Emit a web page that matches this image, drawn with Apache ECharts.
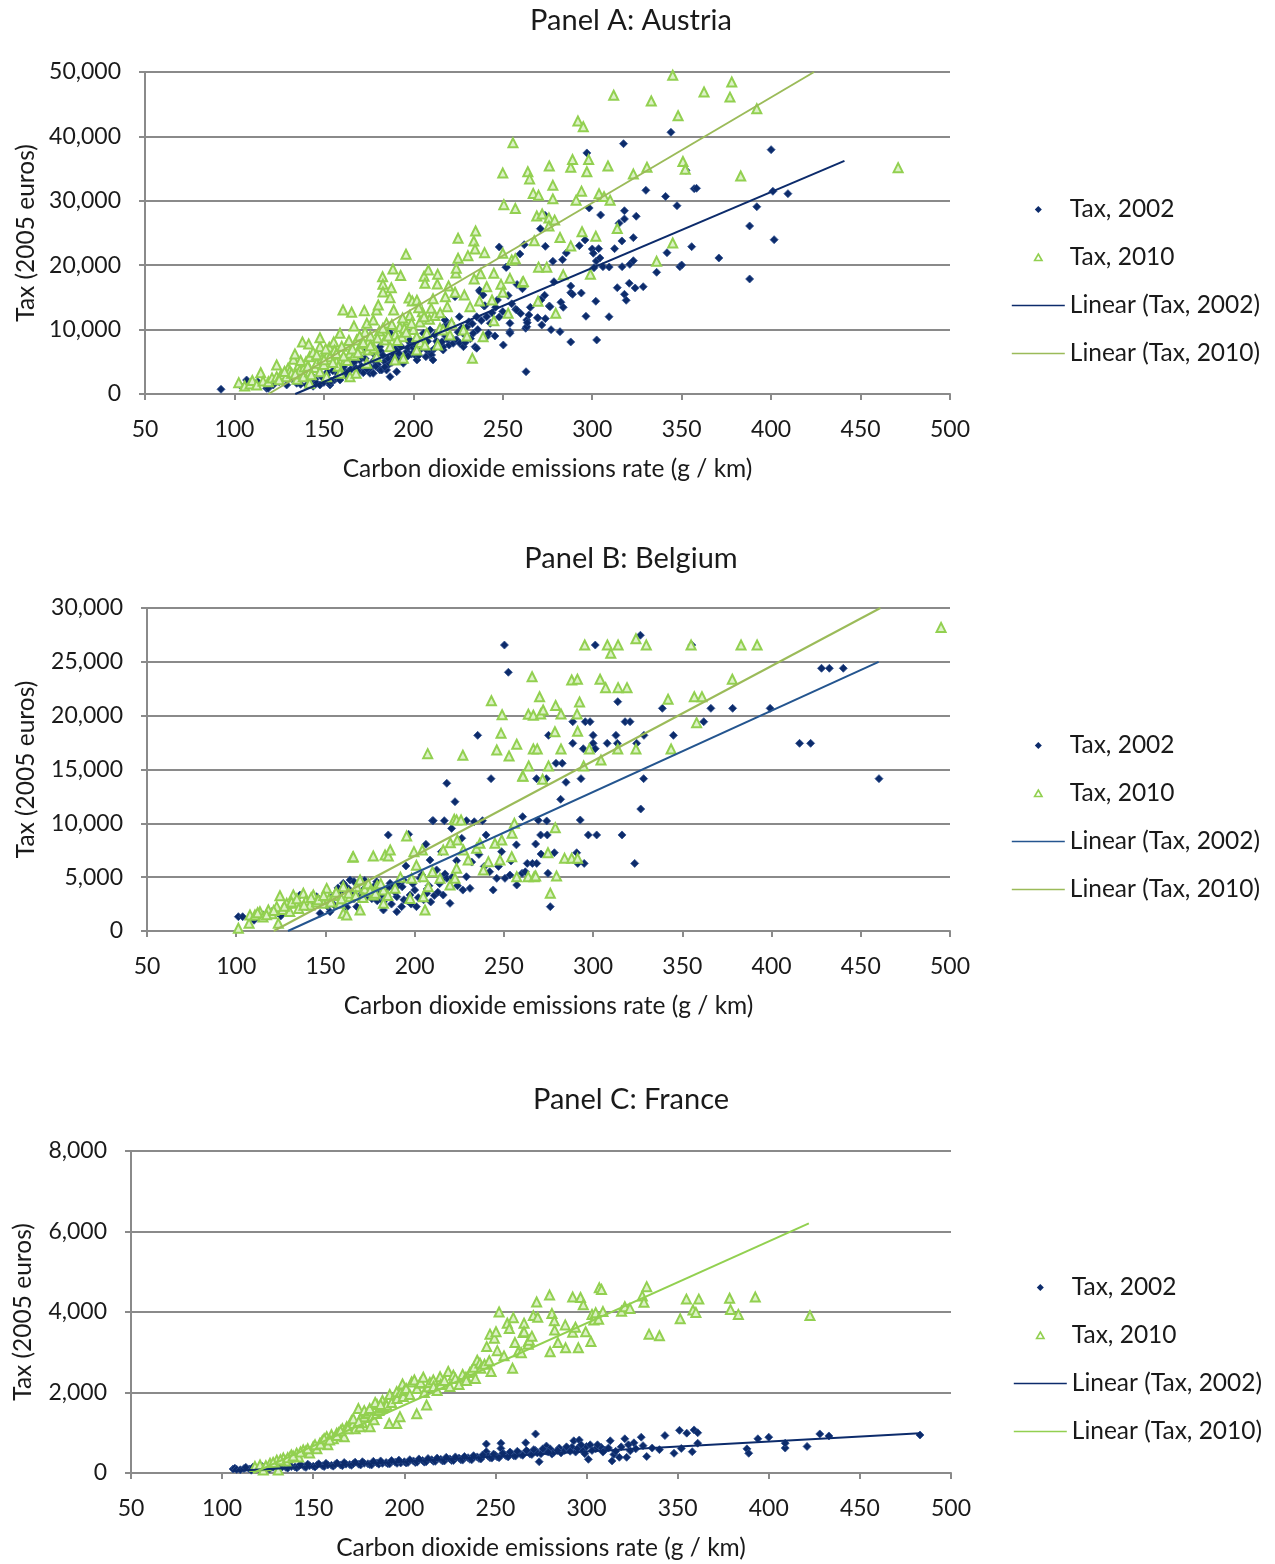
<!DOCTYPE html>
<html>
<head>
<meta charset="utf-8">
<title>Vehicle tax versus CO2 emissions rate</title>
<script src="https://cdn.jsdelivr.net/npm/echarts@6/dist/echarts.min.js"></script>
<style>
  html, body { margin: 0; padding: 0; background: #ffffff; }
  #chart { width: 1275px; height: 1564px; }
</style>
</head>
<body>
<div id="chart"></div>
<script>
// ---------- data: [CO2 rate (g/km), tax (2005 euros)] ----------
const seriesNames = ['Tax, 2002', 'Tax, 2010', 'Linear (Tax, 2002)', 'Linear (Tax, 2010)'];
const panelTitles = ['Panel A: Austria', 'Panel B: Belgium', 'Panel C: France'];
const xTicks = [50, 100, 150, 200, 250, 300, 350, 400, 450, 500];
const yTicksA = [0, 10000, 20000, 30000, 40000, 50000];
const yTicksB = [0, 5000, 10000, 15000, 20000, 25000, 30000];
const yTicksC = [0, 2000, 4000, 6000, 8000];

// Austria
const austria2002 = [
  [92.5,730],[103,1400],[106.8,2170],[110,1600],[113,1900],[118,880],[118.9,880],[121.7,1400],[125,1900],[129.2,1400],
  [132,2400],[134.8,1910],[134.8,1660],[137,1500],[140.4,1400],[140.4,2430],[142.2,1910],[143,2900],[145,2300],[146,1660],
  [147.8,1400],[148,3200],[150,1800],[151.6,2950],[152,3400],[153.4,1400],[153.4,1660],[155,3600],[156,2200],[157,2500],
  [159,2170],[159,3730],[160,3000],[160.8,3730],[161,4200],[162.7,2950],[163,2600],[164,3500],[165,3800],[166.4,4770],
  [166.4,6320],[167,5000],[168,4000],[170,5280],[170.2,5790],[171,4300],[172,3300],[173,5500],[174,6830],[175,4500],
  [175.8,3210],[176,4100],[177.6,3210],[177.6,6320],[178,5200],[179,5000],[180,4600],[181.3,3730],[181.3,7350],[182,6600],
  [182.3,3730],[183,6000],[184,5000],[185,3730],[186,5500],[186,4500],[186.9,9520],[187,2690],[187,9430],[188.8,5790],
  [189,6100],[190,7000],[190.7,3460],[191,5300],[192,6300],[193,7400],[194.4,4770],[195,5600],[196.3,6570],[197,7200],
  [198,8000],[198,8390],[199,6200],[200,7200],[201,7800],[201.9,5790],[201.9,7350],[202,5280],[202,8650],[203,6000],
  [204,7000],[205.6,9430],[206,7300],[207.5,6830],[208,8200],[209,6060],[209.3,9940],[210,6600],[210.2,6060],[211,5280],
  [212,9200],[213,8200],[214,7800],[215,7350],[216.7,6830],[216.7,7350],[217.7,10600],[217.7,11490],[218,9000],[219,8500],
  [219,10450],[220,7600],[221,11000],[222.3,7870],[223.3,15110],[224,8400],[224.2,8390],[225.7,12000],[226,7870],[227,10200],
  [228,9500],[228,7350],[229,9100],[230,10450],[231,11200],[232,8600],[233.5,9430],[234.5,7350],[235.4,12000],[235.4,7100],
  [236,10000],[237,16100],[237.3,15890],[238,11400],[239,15370],[239.5,13670],[240,13710],[241,12000],[241,8900],[242,9430],
  [243,10980],[244,12600],[245.6,9010],[246,13460],[247,14600],[248,11950],[248,22830],[250,12800],[250.3,7610],[251.8,19680],
  [252,19670],[253,15300],[254,9680],[254,10980],[254,9430],[255,14000],[257.3,13150],[257.8,13040],[258,17000],[259.6,21740],
  [260,12500],[261,16350],[262,23190],[262.8,10200],[263,3460],[263.4,10450],[263.4,11490],[263.7,11070],[264.6,12270],[265.4,13460],
  [269.5,11800],[269.5,11850],[270.8,14600],[271,25670],[271.4,14600],[271.8,10720],[273.4,15330],[273.6,27750],[273.8,11700],[273.8,22930],
  [276,13660],[276.4,13560],[277,9990],[278,20610],[278.6,17440],[282,9680],[282.5,14240],[283.4,20860],[283.8,13460],[285.5,21900],
  [288,8080],[288,15730],[288,16770],[289,15480],[292.8,23030],[293.9,15680],[296,23920],[296.5,12070],[297,37430],[298.3,28880],
  [300,22520],[300.6,21850],[301,19610],[302,14400],[302.3,20650],[302.5,8390],[303.6,22570],[304.3,21120],[304.7,27800],[306,19770],
  [309.4,12000],[309.5,19720],[312.5,22570],[314,16510],[315,26500],[316.6,23760],[316.7,19770],[317.5,38870],[318,27180],[318,28460],
  [318,15480],[319,14550],[320.7,17190],[321,20130],[323,20700],[323,24280],[324,16460],[324.6,27600],[328.5,16660],[330,31630],
  [336,18900],[341,30680],[341.8,21940],[344,40640],[347.4,29240],[349,19770],[350,20030],[352.4,34740],[355.6,22880],[357,31890],
  [358.3,31940],[370.8,21120],[388,26090],[388,17860],[392,29080],[400,37940],[401,31480],[401.7,23960],[409.4,31110],
  [144,1200],[149,2600],[154,2000],[158,3100],[163,3300],[169,3600],[174,3900],[179,4300],[184,4200],[188,4900],
  [193,5200],[197,5900],[203,6700],[207,5800],[212,7100],[216,8100],[221,8800],[225,9600],[229,8000],[233,10900]
];
const austria2010 = [
  [102.4,1760],[105.7,1240],[108.7,1550],[110,2100],[112.4,1400],[114.7,3310],[116,2000],[119,1910],[121,2500],[123.6,2690],
  [123.6,4500],[126,3000],[129,2690],[130,4000],[131,3600],[132,3210],[133,5390],[133.8,6210],[135,2300],[136,4500],
  [136.6,3730],[138,8080],[138.5,2690],[139,4200],[140,5000],[141.5,7770],[142,3460],[142,5790],[142,1660],[143,3000],
  [144,6500],[145,4100],[146,4770],[147.8,3460],[147.8,7350],[147.8,8740],[149,5500],[150,4600],[151.5,2690],[152,6000],
  [153,7250],[153.4,5790],[155.5,8080],[156,6800],[157,5020],[158,4300],[159,3210],[159,9430],[160.7,13040],[161.8,5280],
  [162.7,7610],[163,5200],[164.6,6320],[164.6,2690],[165.5,12690],[166.8,10560],[167,6000],[168,3210],[168.3,8390],[170,7100],
  [171,7800],[172.6,12940],[173,9600],[174,10980],[174,4770],[174.8,6830],[175,8200],[176,9000],[177.6,11500],[178,7100],
  [179.5,13040],[179.5,5790],[180.4,13820],[181,9800],[182.8,18200],[183,17030],[183,15840],[184,8390],[185,11000],[187,7350],
  [187,14960],[187.7,16500],[188.6,19400],[189,13040],[189.7,5280],[190,9200],[192.5,10450],[192.9,18400],[193.7,8900],[194.4,5540],
  [195,10200],[195.9,21700],[197,11500],[197.6,14900],[198,12200],[199.4,14440],[200,10000],[201.9,8900],[201.9,6830],[202,14550],
  [203.7,11180],[204,8000],[205,12780],[206,18300],[206.5,17200],[206.5,7610],[207.5,9430],[208.4,19250],[209,11600],[210,13300],
  [212,12200],[213.4,17080],[213.6,18600],[213.6,7610],[214.9,10200],[216.7,9940],[217.9,15110],[219,13560],[219.7,16770],[220.5,9160],
  [221.4,10980],[223.3,15790],[223.8,18800],[224,19520],[225,24180],[225,21070],[228,9940],[228.5,15370],[230,9000],[230.5,21480],
  [231.7,13560],[233,5540],[233.8,23760],[234,17860],[234.5,22500],[234.8,25300],[237,14440],[237.6,18680],[239,8900],[239.8,21950],
  [241,16660],[244,14600],[245,18740],[245,11380],[249,17030],[250,15790],[250,21850],[250,34300],[250.6,29400],[253,12530],
  [254,17960],[255,20800],[255.7,39000],[257,21000],[257,28800],[261,17340],[261.5,17450],[264,34500],[265,33400],[267,31150],
  [267.6,23800],[269,27650],[269.7,14400],[270,30850],[270,19700],[272,27950],[274.6,19700],[275.8,27330],[275.8,26100],[276,35400],
  [278,32400],[278,30300],[279,27000],[279.6,12530],[282,24300],[283.8,18500],[288,23000],[288,35200],[289,36400],[291,30100],
  [292,42400],[294,31500],[294.3,25200],[295,41500],[297,34500],[298,36400],[299,18600],[302,24500],[303.8,31100],[306.6,30650],
  [308.8,35400],[310,30100],[312,46400],[314,25700],[323,34150],[330.6,35200],[333,45500],[336,20600],[345,49500],[345,23450],
  [348,43200],[350.7,36100],[352,34900],[362.5,46900],[377,46100],[378,48450],[383,33850],[392,44300],[471,35150],
  [125,2200],[128,3500],[134,3100],[137,5200],[141,4300],[146,6100],[150,5300],[151,7000],[155,4900],[157,6300],
  [160,7400],[161,5900],[164,8300],[166,7000],[169,6400],[170,9000],[172,8000],[176,7500],[180,8700],[183,10200],
  [186,9000],[188,10800],[191,8300],[194,11800],[196,9600],[199,11000],[203,13400],[206,12000],[211,14800],[215,12600]
];
const austriaFit2002 = [[134, 0], [441, 36200]];
const austriaFit2010 = [[119, 0], [424, 50000]];

// Belgium
const belgium2002 = [
  [101.2,1330],[103.6,1330],[110,1000],[115,1500],[120,1800],[125,1400],[128,2200],[132,2570],[135.7,3340],[139.5,2260],
  [142,2800],[145,3190],[147,1640],[150,2900],[152.6,1790],[155,2400],[157,4000],[158,3600],[160,4430],[161,4200],
  [162,2200],[163.8,4740],[164,3500],[166,3000],[167.5,2260],[168,4300],[170,3400],[171,3800],[173.1,3190],[175,3960],
  [176,3000],[178.7,4580],[179,2800],[180.6,3650],[182.5,2720],[182.5,1950],[184,3400],[185.2,8920],[186.2,4430],[187,2500],
  [188,4120],[190,3190],[190,1790],[191,4300],[192.7,2260],[193.7,4740],[194,2900],[195.1,6040],[196.6,8980],[197.4,3340],
  [198,2500],[200,3800],[201,2260],[203,4890],[205,2900],[206.3,8050],[206.7,3500],[208,4200],[208.6,6590],[210,10250],
  [210.4,10250],[211,3300],[212.3,5670],[214,4400],[215,7370],[216,3340],[216.6,10250],[217,5300],[218,13720],[218,4890],
  [219.8,2570],[220.7,9530],[221,5000],[222.6,12010],[223.5,6530],[224,4200],[226.4,8610],[227,3800],[229,10250],[229,5040],
  [231,3960],[232,6400],[233.4,10150],[235.3,18170],[236,7100],[238,10250],[239,6000],[240,8920],[242,5500],[242.8,14150],
  [244,3810],[246,4890],[247,6000],[248.7,7370],[250.3,26560],[250.6,4890],[252.5,24030],[253.4,5200],[254,6500],[257,8000],
  [257.2,4270],[260.2,5360],[260.5,10620],[262,5500],[263.1,6280],[266,6280],[267.8,8080],[268.3,14150],[268.4,6280],[269.3,10280],
  [270.6,8920],[270.8,7150],[273.8,14150],[274,10220],[274.3,8920],[274.7,5360],[275,18170],[276,2260],[278.3,7270],[279.2,15580],
  [281.8,12230],[282.7,15580],[284.8,13810],[288.6,19440],[288.6,17430],[290.8,7270],[291.4,6280],[292.8,10310],[293.2,14150],[294.5,16930],
  [295,6280],[295.6,19440],[297.3,8920],[298.3,19440],[300,18170],[300,17430],[301.2,26560],[301.2,16930],[302,8920],[307.9,17430],
  [312.8,18170],[313.6,17430],[313.8,21300],[316.2,8920],[317.9,19440],[320.7,19440],[323.3,6280],[324.4,17430],[326.5,27470],[326.7,11330],
  [328.3,14150],[328.5,18170],[338.8,20680],[345,18170],[355.3,26560],[362,19440],[366,20680],[378.2,20680],[399.2,20680],[415.7,17430],
  [421.9,17430],[428,24400],[432.4,24400],[440.2,24400],[460.2,14150],
  [151,2300],[154,3200],[159,2700],[163,3900],[166,4600],[169,3000],[172,4700],[177,4100],[181,3300],[185,4000],
  [189,3600],[193,4100],[196,2800],[199,4400],[202,3100],[204,5200],[207,3900],[209,2700],[213,3600],[215,4800]
];
const belgium2010 = [
  [101.2,250],[107.2,720],[107.7,1490],[110.5,1490],[113.3,1790],[115,1300],[118,1950],[120,1600],[122.7,2260],[123.6,720],
  [124.5,3280],[126,2000],[128.3,2570],[130,1800],[132,3340],[133.9,2570],[135,2100],[137.6,3500],[139,2800],[141.3,2410],
  [143.2,3340],[145,2700],[148.8,2570],[150.7,3960],[152,3000],[155,3300],[158.2,2570],[160,4120],[160,1640],[161.9,1490],
  [163.8,3190],[165.3,6850],[165.6,6900],[167.5,4120],[169.4,4740],[169.4,1950],[172,3900],[174,4400],[176.8,6970],[176.8,3340],
  [179,4200],[182.5,3810],[182.5,2570],[183.4,7060],[185.2,6970],[186.3,7520],[189,3960],[192,5000],[195.5,8820],[197.4,3030],
  [198.3,4890],[199.6,7370],[201,6100],[204.3,7520],[204.8,5040],[204.8,3190],[205.8,1950],[207.3,16470],[207.6,4120],[210,5500],
  [214.2,4890],[216,7520],[219.8,4270],[220,8200],[222.2,10370],[222.6,4890],[223.5,10310],[223.5,5820],[223.9,8450],[226,10310],
  [227,16320],[227.3,7520],[230,6590],[234.7,7680],[236.6,8140],[238.5,5670],[241.3,6440],[243,21390],[245,8140],[246,16810],
  [247.8,6590],[248.4,18360],[248.8,8450],[249,20090],[252.9,16250],[254.4,6900],[254.6,9070],[255.9,10000],[257.2,17340],[257.2,5040],
  [260.5,14400],[260.7,14370],[263.6,5050],[263.7,20130],[263.9,15330],[265.8,23620],[266.5,16900],[266.5,20040],[267,5050],[267.8,5110],
  [268.7,16900],[270,21760],[270.6,20160],[271.7,14090],[272,20530],[274.7,7270],[275,15330],[276,3500],[278.6,18510],[278.8,9590],
  [279,20950],[279.5,5110],[282,20160],[282,16900],[284,6750],[288,23310],[288,6750],[291,20160],[291.2,23380],[291.3,18550],
  [291.3,6750],[292.4,21270],[294.7,15330],[295.3,26560],[297.9,16900],[303.9,23380],[304.4,15880],[307,22600],[308,26560],[309.9,25790],
  [313.8,16900],[314,26560],[314,22600],[319,22600],[324,27150],[324,16900],[329.8,26560],[342,21520],[343.7,16900],[354.9,26560],
  [356.7,21760],[358,19350],[361,21760],[378,23380],[382.9,26560],[391.9,26560],[495,28200],
  [112,1700],[117,1500],[121,1900],[127,2300],[131,2700],[134,3000],[138,2400],[142,3100],[146,2900],[149,3300],
  [153,2700],[156,3600],[159,3000],[163,3500],[167,3300],[171,3100],[175,3700],[178,3500],[181,4400],[185,3300]
];
const belgiumFit2002 = [[129, 0], [460, 25000]];
const belgiumFit2010 = [[121, 0], [461, 30000]];

// France
const france2002 = [
  [106,100],[107,120],[108,90],[110,80],[112,110],[115,100],[116,70],[118,120],[120,110],[121,90],
  [123,130],[125,120],[126,100],[128,140],[130,130],[131,110],[133,150],[135,140],[136,120],[138,160],
  [140,150],[141,130],[142,170],[145,160],[146,140],[148,180],[150,170],[151,150],[152,190],[155,180],
  [156,160],[158,200],[160,190],[161,170],[162,210],[165,200],[166,180],[168,220],[170,210],[171,190],
  [172,230],[175,220],[176,200],[178,240],[180,230],[181,210],[182,200],[185,250],[186,220],[188,240],
  [190,260],[191,230],[192,230],[195,270],[196,240],[198,250],[200,280],[201,250],[202,260],[205,300],
  [206,260],[207,270],[210,310],[211,270],[212,280],[215,330],[216,290],[217,290],[220,340],[221,300],
  [222,300],[225,350],[226,310],[227,310],[230,370],[231,330],[232,320],[235,380],[236,340],[237,330],
  [240,400],[241,360],[242,350],[245,720],[245,530],[246,420],[247,380],[248,370],[250,440],[251,400],
  [252,380],[253,740],[253,610],[255,460],[256,420],[257,400],[259,480],[260,430],[261,420],[263,500],
  [264,460],[265,440],[266.6,750],[268,520],[269,470],[270,460],[272,970],[272,560],[273,500],[274,280],
  [275,480],[278,670],[278,540],[280,600],[281,470],[282,510],[285,620],[286,500],[288,560],[290,600],
  [292,640],[293,800],[294,520],[296,820],[298,570],[300,660],[301,340],[302,700],[305,600],[308,640],
  [310,570],[313,800],[314,300],[315,460],[318,390],[321,850],[322,390],[324,550],[326,750],[330,890],
  [333,410],[336,620],[340,580],[343,930],[348,490],[351,1060],[352,610],[355,990],[358,530],[359,1070],
  [361,1000],[361,740],[388,600],[389,490],[394,850],[400,890],[409,620],[409,740],[421,660],[428,970],
  [433,920],[483,944],
  [113,140],[117,150],[122,160],[127,170],[132,180],[137,190],[143,210],[147,220],[153,230],[157,240],
  [163,250],[167,260],[173,270],[177,280],[183,290],[187,300],[193,310],[197,320],[203,330],[208,350],
  [213,360],[218,370],[223,390],[228,400],[233,410],[238,430],[243,450],[249,470],[254,490],[258,520],
  [262,540],[267,560],[271,580],[276,600],[279,520],[284,560],[289,650],[291,540],[295,610],[297,700],
  [299,480],[303,560],[306,700],[309,520],[312,620],[316,540],[319,650],[323,700],[327,600],[331,680]
];
const france2010 = [
  [118,160],[120.8,200],[122.6,75],[126.3,240],[130,320],[130.8,75],[133.6,370],[135,300],[137.3,400],[138,450],
  [140.9,490],[142,400],[144.5,570],[146,550],[148,500],[150,650],[152,600],[153.7,740],[155,800],[157.4,900],
  [158,700],[160,950],[161,850],[162.9,990],[164,1000],[166,1100],[167,900],[168.4,1150],[170,1200],[171,1300],
  [172,1230],[173,1100],[174.8,1600],[175.7,1150],[176,1350],[177,1250],[178,1400],[179,1470],[180,1500],[181.2,1150],
  [182,1380],[183.4,1320],[184.8,1480],[185,1700],[186,1550],[187.6,1610],[188,1800],[189,1650],[190.3,1690],[191.7,1230],
  [192,1950],[193,1750],[195.8,1230],[195.8,2020],[196,1850],[197.6,1400],[198,2000],[199,2210],[199.4,1900],[200,2050],
  [201,2100],[203,1950],[204,2260],[205.5,2310],[206.8,1470],[207,2100],[208.6,2230],[209,2250],[210.4,2380],[211,2000],
  [212.2,1690],[213.2,2140],[214,2250],[215.9,2310],[216,2150],[218,2050],[219.6,2390],[220,2200],[222,2300],[224.1,2520],
  [225,2150],[226.9,2430],[228,2350],[230,2200],[232,2450],[233.8,2380],[234,2300],[236,2500],[237,2550],[238.2,2630],
  [239,2350],[240,2800],[241.5,2730],[242,2600],[244,2700],[245.2,3140],[246.6,2790],[247,3450],[247.6,2520],[249.4,3350],
  [250.3,3510],[251,3040],[252,4000],[254.7,2910],[256.5,3720],[257.6,3590],[259.4,2600],[259.8,3860],[260.7,3240],[262.5,3010],
  [264.2,2990],[265.2,3490],[265.7,3720],[265.7,3510],[268,3260],[268,3200],[268.6,3300],[270,3400],[270.8,3910],[272.6,4250],
  [273.2,3870],[279.7,4420],[280,3010],[281,3960],[282.3,3780],[282.5,3550],[284.3,3240],[288.3,3680],[288.5,3110],[292.4,4370],
  [292.4,3500],[293.9,3620],[295.5,3110],[296.7,4360],[298.2,4180],[299.5,3510],[302.4,3270],[303,3940],[304,3800],[305,3980],
  [306.6,3820],[307,4600],[308.2,4560],[309,4010],[319.2,4020],[321,4130],[323.8,4090],[330.6,4400],[331.5,4240],[333,4630],
  [334.3,3450],[340,3410],[351.4,3830],[354.8,4320],[358.4,4050],[360,3990],[361.6,4320],[378.5,4340],[379,4060],[383.3,3940],
  [392.6,4370],[422.6,3910],
  [124,180],[128,260],[132,330],[136,380],[139,420],[143,520],[147,600],[151,700],[154,720],[156,850],
  [159,820],[163,930],[165,1050],[169,1100],[172,1350],[175,1280],[178,1550],[181,1600],[184,1750],[187,1700]
];
const franceFit2002 = [[106, 50], [483, 985]];
const franceFit2010 = [[117, 0], [422, 6200]];

// ---------- styling ----------
const FONT = 'Lato';
const NAVY = '#0C2B6B';
const GREEN = '#92D050';
const GREEN_FIT = '#9BBB59';
const NAVY_FIT_B = '#24558F';
const GRID_GREY = '#8A8A8A';
const TEXT = '#1a1a1a';

const fmt = v => v.toLocaleString('en-US');

const panels = [
  { title: panelTitles[0], top: 72,   height: 322, left: 145, right: 325, yTicks: yTicksA, yNameGap: 106,
    s02: austria2002, s10: austria2010, f02: austriaFit2002, f10: austriaFit2010,
    fit02Color: NAVY, fit10Color: GREEN_FIT, titleTop: 6, legendTop: 197, legendLeft: 1011 },
  { title: panelTitles[1], top: 608,  height: 323, left: 147, right: 325, yTicks: yTicksB, yNameGap: 108,
    s02: belgium2002, s10: belgium2010, f02: belgiumFit2002, f10: belgiumFit2010,
    fit02Color: NAVY_FIT_B, fit10Color: GREEN_FIT, titleTop: 544, legendTop: 733, legendLeft: 1011 },
  { title: panelTitles[2], top: 1151, height: 322, left: 131, right: 324, yTicks: yTicksC, yNameGap: 95,
    s02: france2002, s10: france2010, f02: franceFit2002, f10: franceFit2010,
    fit02Color: NAVY, fit10Color: GREEN, titleTop: 1085, legendTop: 1275, legendLeft: 1013 }
];

const diamondIcon = 'path://M0,0 M53,14 M26.5,3.5 L30,7 L26.5,10.5 L23,7 Z';
const triangleIcon = 'path://M0,0 M53,14 M26.5,3.5 L30.2,10 L22.8,10 Z';
const lineIcon = 'path://M0,6.3 L53,6.3 L53,7.7 L0,7.7 Z';

const option = {
  backgroundColor: '#ffffff',
  animation: false,
  textStyle: { fontFamily: FONT, color: TEXT },
  title: [], grid: [], xAxis: [], yAxis: [], legend: [], series: []
};

panels.forEach((p, i) => {
  const yMax = p.yTicks[p.yTicks.length - 1];
  const yStep = p.yTicks[1] - p.yTicks[0];

  option.title.push({
    text: p.title, left: 631, top: p.titleTop, textAlign: 'center', padding: 0,
    textStyle: { fontFamily: FONT, fontSize: 29, fontWeight: 'normal', color: TEXT }
  });

  option.grid.push({
    left: p.left, right: p.right, top: p.top, height: p.height,
    containLabel: false, outerBoundsMode: 'none'
  });

  option.xAxis.push({
    gridIndex: i, type: 'value', min: xTicks[0], max: xTicks[xTicks.length - 1], interval: xTicks[1] - xTicks[0],
    name: 'Carbon dioxide emissions rate (g / km)', nameLocation: 'middle', nameGap: 63,
    nameTextStyle: { fontFamily: FONT, fontSize: 24.5, color: TEXT },
    axisLine: { show: true, onZero: false, lineStyle: { color: GRID_GREY, width: 2 } },
    axisTick: { show: true, length: 6, inside: false, lineStyle: { color: GRID_GREY, width: 2 } },
    axisLabel: { fontFamily: FONT, fontSize: 23, color: TEXT, margin: 24 },
    splitLine: { show: false }
  });

  option.yAxis.push({
    gridIndex: i, type: 'value', min: 0, max: yMax, interval: yStep,
    name: 'Tax (2005 euros)', nameLocation: 'middle', nameGap: p.yNameGap,
    nameTextStyle: { fontFamily: FONT, fontSize: 24.5, color: TEXT },
    axisLine: { show: true, lineStyle: { color: GRID_GREY, width: 2 } },
    axisTick: { show: true, length: 6, inside: false, lineStyle: { color: GRID_GREY, width: 2 } },
    axisLabel: { fontFamily: FONT, fontSize: 23, color: TEXT, margin: 24, formatter: fmt },
    splitLine: { show: true, lineStyle: { color: GRID_GREY, width: 2 } }
  });

  option.legend.push({
    orient: 'vertical', left: p.legendLeft, top: p.legendTop,
    itemWidth: 53, itemHeight: 14, itemGap: 23, padding: 0, selectedMode: false,
    textStyle: { fontFamily: FONT, fontSize: 24.5, color: TEXT },
    data: [
      { name: seriesNames[0], icon: diamondIcon, itemStyle: { color: NAVY, borderWidth: 0 } },
      { name: seriesNames[1], icon: triangleIcon, itemStyle: { color: '#ffffff', borderColor: GREEN, borderWidth: 1.6 } },
      { name: seriesNames[2], icon: lineIcon, itemStyle: { color: p.fit02Color, borderWidth: 0 } },
      { name: seriesNames[3], icon: lineIcon, itemStyle: { color: p.fit10Color, borderWidth: 0 } }
    ]
  });

  option.series.push(
    {
      name: seriesNames[0], type: 'scatter', xAxisIndex: i, yAxisIndex: i, data: p.s02,
      symbol: 'diamond', symbolSize: 8, z: 2,
      itemStyle: { color: NAVY, borderColor: '#2E4F8E', borderWidth: 0.8, opacity: 1 }
    },
    {
      name: seriesNames[1], type: 'scatter', xAxisIndex: i, yAxisIndex: i, data: p.s10,
      symbol: 'triangle', symbolSize: 9, z: 3,
      itemStyle: { color: '#DDF1C8', borderColor: GREEN, borderWidth: 2, opacity: 1 }
    },
    {
      name: seriesNames[2], type: 'line', xAxisIndex: i, yAxisIndex: i, data: p.f02,
      symbol: 'none', z: 4, lineStyle: { color: p.fit02Color, width: 2 }, itemStyle: { color: p.fit02Color }
    },
    {
      name: seriesNames[3], type: 'line', xAxisIndex: i, yAxisIndex: i, data: p.f10,
      symbol: 'none', z: 4, lineStyle: { color: p.fit10Color, width: 2 }, itemStyle: { color: p.fit10Color }
    }
  );
});

const chart = echarts.init(document.getElementById('chart'), null, { renderer: 'canvas' });
chart.setOption(option);
</script>
</body>
</html>
